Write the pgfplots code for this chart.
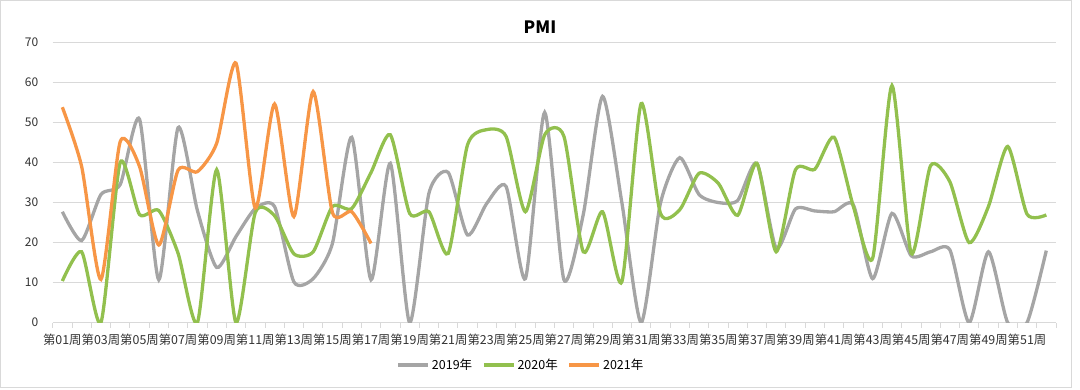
\documentclass[border=0pt]{standalone}
\usepackage{fontspec}
\setmainfont{Noto Sans CJK SC}
\usepackage{pgfplots}
\pgfplotsset{compat=1.18}
\definecolor{c19}{HTML}{A5A5A5}
\definecolor{c20}{HTML}{92C04E}
\definecolor{c21}{HTML}{F79646}
\definecolor{gridc}{HTML}{D9D9D9}
\begin{document}
\begin{tikzpicture}
\useasboundingbox (-52.7pt,-67.3pt) rectangle (1027.3pt,322.7pt);
\draw[gridc, line width=1pt] (-51.7pt,-65.3pt) rectangle (1018.3pt,321.7pt);
\node[font=\fontsize{17}{19}\selectfont\bfseries] at (487.3pt,295.7pt) {PMI};
\begin{axis}[
  at={(0pt,0pt)}, anchor=south west,
  scale only axis, width=1003.3pt, height=280.4pt,
  xmin=0.5, xmax=52.5, ymin=0, ymax=70,
  axis line style={draw=none},
  xtick={1,3,...,51},
  xticklabels={第01周,第03周,第05周,第07周,第09周,第11周,第13周,第15周,第17周,第19周,第21周,第23周,第25周,第27周,第29周,第31周,第33周,第35周,第37周,第39周,第41周,第43周,第45周,第47周,第49周,第51周},
  minor xtick={0.5,1.5,...,52.5},
  ytick={0,10,...,70},
  tick pos=left, tick align=outside,
  major tick length=0pt, minor tick length=5pt,
  minor tick style={gridc, line width=0.75pt},
  ymajorgrids, major grid style={gridc, line width=0.75pt},
  /pgf/number format/assume math mode=true,
  xticklabel style={font=\fontsize{12.4}{13}\selectfont, text=black!80, yshift=-8pt, inner xsep=0pt},
  yticklabel style={font=\fontsize{12}{13}\selectfont, text=black!80, xshift=-11pt},
  legend style={at={(0.4668,-0.1509)}, anchor=center, draw=none, fill=none,
    legend columns=3, font=\fontsize{12.5}{13}\selectfont,
    /tikz/every even column/.append style={column sep=8pt},
    nodes={inner xsep=2pt}},
  legend image code/.code={\draw[#1, mark=none] (0pt,0pt) -- (30pt,0pt);},
  clip=true,
]
\addplot[c19, line width=3.3pt, smooth, tension=0.4] coordinates {
(1,27.7)(2,20.5)(3,32)(4,34.5)(5,50.8)(6,10.7)(7,48.7)(8,28)(9,13.8)(10,21.5)
(11,28.5)(12,29)(13,10.2)(14,11)(15,19.8)(16,46.3)(17,10.7)(18,39.8)(19,0)(20,32.3)
(21,37.5)(22,21.9)(23,29.8)(24,34)(25,11)(26,52.5)(27,10.7)(28,27)(29,56.5)(30,30)
(31,0)(32,29.8)(33,41.2)(34,32)(35,30)(36,30.5)(37,39.8)(38,18.6)(39,28.4)(40,27.9)
(41,27.7)(42,29.4)(43,11)(44,27.3)(45,16.7)(46,17.7)(47,18.2)(48,0)(49,17.7)(50,0)
(51,0)(52,18)};
\addlegendentry{2019年}
\addplot[c20, line width=3.3pt, smooth, tension=0.4] coordinates {
(1,10.4)(2,17.7)(3,0)(4,40)(5,27)(6,28)(7,17.3)(8,0)(9,38.2)(10,0)
(11,27.5)(12,26.7)(13,17.2)(14,17.7)(15,29)(16,28.5)(17,37.5)(18,46.9)(19,27.3)(20,27.7)
(21,17.3)(22,44.4)(23,48.2)(24,46.5)(25,27.7)(26,46.9)(27,46.5)(28,17.7)(29,27.7)(30,10.2)
(31,54.7)(32,27.3)(33,28.2)(34,37.3)(35,34.8)(36,26.8)(37,39.8)(38,17.7)(39,38.2)(40,38.3)
(41,46.3)(42,29)(43,16.1)(44,59.2)(45,17.3)(46,39.2)(47,35.2)(48,20)(49,29)(50,44)
(51,27.1)(52,26.9)};
\addlegendentry{2020年}
\addplot[c21, line width=3.3pt, smooth, tension=0.4] coordinates {
(1,53.8)(2,39)(3,10.8)(4,45.2)(5,39)(6,19.4)(7,38.1)(8,37.7)(9,44.8)(10,64.8)
(11,28.6)(12,54.6)(13,26.5)(14,57.7)(15,27.5)(16,27.7)(17,19.8)};
\addlegendentry{2021年}
\end{axis}
\end{tikzpicture}
\end{document}
